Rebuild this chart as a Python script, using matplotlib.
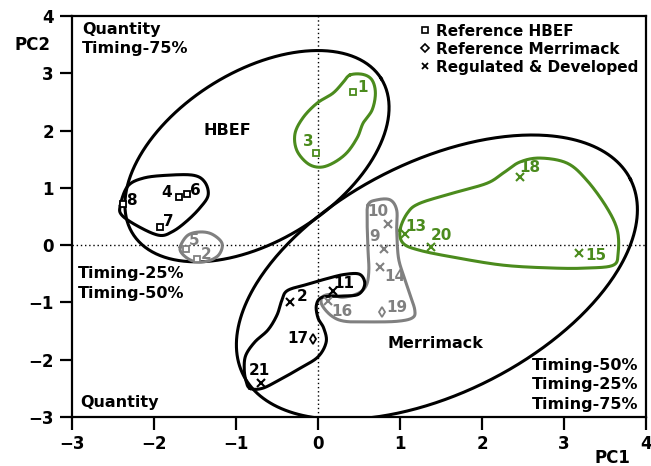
import numpy as np
import matplotlib
matplotlib.use("Agg")
import matplotlib.pyplot as plt
from matplotlib.lines import Line2D

plt.rcParams['font.family'] = ['DejaVu Sans']
plt.rcParams['font.weight'] = 'bold'

GREEN = '#4b8b1d'
GREY = '#808080'
BLACK = '#000000'
COLORS = {'g': GREEN, 's': GREY, 'k': BLACK}

# Reference HBEF sites (squares)
hbef_id = ['1', '3', '4', '6', '8', '7', '5', '2']
hbef_pc1 = [0.43, -0.02, -1.70, -1.60, -2.38, -1.93, -1.61, -1.48]
hbef_pc2 = [2.67, 1.61, 0.84, 0.89, 0.72, 0.31, -0.07, -0.24]
hbef_grp = ['g', 'g', 'k', 'k', 'k', 'k', 's', 's']

# Reference Merrimack sites (diamonds)
merr_id = ['17', '19']
merr_pc1 = [-0.06, 0.78]
merr_pc2 = [-1.64, -1.17]
merr_grp = ['k', 's']

# Regulated & developed sites (crosses)
reg_id = ['10', '9', '14', '11', '16', '2', '21', '13', '20', '18', '15']
reg_pc1 = [0.85, 0.80, 0.76, 0.18, 0.12, -0.34, -0.70, 1.06, 1.38, 2.46, 3.18]
reg_pc2 = [0.37, -0.07, -0.38, -0.80, -0.98, -0.99, -2.41, 0.19, -0.03, 1.19, -0.14]
reg_grp = ['s', 's', 's', 'k', 's', 'k', 'k', 'g', 'g', 'g', 'g']

# label offsets (pixels) per site label
lab_off = {
    ('s', '1'): (9, 5), ('s', '3'): (-8, 11), ('s', '4'): (-12, 5), ('s', '6'): (9, 4),
    ('s', '8'): (9, 3), ('s', '7'): (9, 6), ('s', '5'): (8, 9), ('s', '2'): (9, 4),
    ('d', '17'): (-15, 1), ('d', '19'): (15, 5),
    ('x', '10'): (-10, 12), ('x', '9'): (-9, 13), ('x', '14'): (15, -10), ('x', '11'): (11, 7),
    ('x', '16'): (14, -10), ('x', '2'): (12, 5), ('x', '21'): (-1, 13), ('x', '13'): (11, 8),
    ('x', '20'): (10, 11), ('x', '18'): (10, 9), ('x', '15'): (17, -2),
}

# cluster outlines (data units), drawn as smooth closed curves
green_top_x = [0.39, 0.55, 0.66, 0.70, 0.66, 0.55, 0.48, 0.35, 0.18, 0.02, -0.13, -0.26, -0.28, -0.18, -0.01, 0.18, 0.30]
green_top_y = [2.97, 2.98, 2.88, 2.65, 2.36, 2.13, 1.88, 1.61, 1.43, 1.36, 1.43, 1.66, 1.95, 2.23, 2.48, 2.65, 2.83]
black_hbef_x = [-2.41, -2.32, -2.13, -1.84, -1.52, -1.38, -1.34, -1.44, -1.60, -1.77, -1.93, -2.17, -2.39]
black_hbef_y = [0.70, 1.03, 1.17, 1.22, 1.22, 1.10, 0.87, 0.65, 0.42, 0.24, 0.17, 0.31, 0.52]
grey_hbef_x = [-1.68, -1.59, -1.44, -1.29, -1.17, -1.21, -1.35, -1.52, -1.65]
grey_hbef_y = [-0.03, 0.17, 0.23, 0.19, 0.03, -0.17, -0.28, -0.28, -0.16]
green_right_x = [1.00, 1.09, 1.24, 1.65, 2.06, 2.26, 2.46, 2.71, 3.04, 3.28, 3.52, 3.65, 3.66, 3.60, 3.28, 2.87, 2.26, 1.65, 1.24, 1.04]
green_right_y = [0.26, 0.56, 0.73, 0.91, 1.08, 1.26, 1.45, 1.52, 1.43, 1.13, 0.66, 0.26, -0.14, -0.35, -0.40, -0.40, -0.35, -0.21, -0.09, 0.03]
grey_l_x = [0.61, 0.72, 0.88, 0.96, 0.96, 0.98, 1.04, 1.11, 1.18, 1.15, 0.96, 0.63, 0.33, 0.17, 0.05, 0.05, 0.15, 0.30, 0.49, 0.59, 0.62, 0.61, 0.60]
grey_l_y = [0.70, 0.79, 0.79, 0.61, 0.26, -0.21, -0.52, -0.82, -1.13, -1.27, -1.33, -1.34, -1.33, -1.24, -1.05, -0.91, -0.86, -0.91, -0.84, -0.70, -0.44, -0.09, 0.35]
black_merr_x = [-0.83, -0.68, -0.48, -0.22, 0.00, 0.10, 0.07, 0.00, -0.02, 0.05, 0.27, 0.49, 0.57, 0.51, 0.33, 0.12, -0.12, -0.37, -0.44, -0.50, -0.61, -0.77, -0.88, -0.90, -0.88]
black_merr_y = [-2.50, -2.50, -2.36, -2.15, -1.95, -1.69, -1.45, -1.27, -1.05, -0.91, -0.89, -0.86, -0.68, -0.51, -0.51, -0.58, -0.68, -0.79, -0.96, -1.22, -1.48, -1.69, -1.92, -2.15, -2.36]

# big group ellipses: centre and two conjugate semi-axes (data units)
hbef_ell = ((-0.744, 1.553), (1.515, 1.354), (-0.547, 1.252))
merr_ell = ((1.45, -0.56), (2.36, 1.71), (-0.64, 1.80))


def closed_curve(xs, ys, n=24):
    p = np.column_stack([xs, ys])
    m = len(p)
    t = np.linspace(0, 1, n, endpoint=False)[:, None]
    segs = []
    for i in range(m):
        p0, p1, p2, p3 = p[i - 1], p[i], p[(i + 1) % m], p[(i + 2) % m]
        segs.append(0.5 * (2 * p1 + (-p0 + p2) * t + (2 * p0 - 5 * p1 + 4 * p2 - p3) * t ** 2
                           + (-p0 + 3 * p1 - 3 * p2 + p3) * t ** 3))
    segs.append(p[:1])
    return np.vstack(segs)


def ellipse(ell, n=400):
    c, u, v = ell
    t = np.linspace(0, 2 * np.pi, n)
    x = c[0] + np.cos(t) * u[0] + np.sin(t) * v[0]
    y = c[1] + np.cos(t) * u[1] + np.sin(t) * v[1]
    return x, y


fig = plt.figure(figsize=(6.51, 4.66), dpi=100)
ax = fig.add_axes([72 / 651, 49 / 466, 574 / 651, 401 / 466])

ax.axvline(0, color='k', ls=(0, (1, 2)), lw=1.0, zorder=1)
ax.axhline(0, color='k', ls=(0, (1, 2)), lw=1.0, zorder=1)

for ell in (hbef_ell, merr_ell):
    ex, ey = ellipse(ell)
    ax.plot(ex, ey, color='k', lw=2.2, zorder=2)

for xs, ys, col in [(green_top_x, green_top_y, GREEN), (black_hbef_x, black_hbef_y, BLACK),
                    (grey_hbef_x, grey_hbef_y, GREY), (green_right_x, green_right_y, GREEN),
                    (grey_l_x, grey_l_y, GREY), (black_merr_x, black_merr_y, BLACK)]:
    c = closed_curve(xs, ys)
    ax.plot(c[:, 0], c[:, 1], color=col, lw=2.2, zorder=3)

groups = [('s', hbef_id, hbef_pc1, hbef_pc2, hbef_grp, 4.5),
          ('d', merr_id, merr_pc1, merr_pc2, merr_grp, 5.5),
          ('x', reg_id, reg_pc1, reg_pc2, reg_grp, 5.5)]
for mk, ids, xs, ys, grp, ms in groups:
    for i, x, y, g in zip(ids, xs, ys, grp):
        col = COLORS[g]
        if mk == 'x':
            ax.plot(x, y, marker='x', ms=ms, mew=1.5, color=col, ls='none', zorder=5)
        else:
            ax.plot(x, y, marker=mk, ms=ms, mew=1.3, mec=col, mfc='white', ls='none', zorder=5)
        dx, dy = lab_off[(mk, i)]
        ax.annotate(i, (x, y), xytext=(dx, dy), textcoords='offset pixels',
                    ha='center', va='center', fontsize=11, color=col, zorder=6)

ax.text(-1.11, 2.0, 'HBEF', ha='center', va='center', fontsize=11.5)
ax.text(1.43, -1.71, 'Merrimack', ha='center', va='center', fontsize=11.5)

ax.text(0.017, 0.985, 'Quantity\nTiming-75%', transform=ax.transAxes, ha='left', va='top',
        fontsize=11.5, linespacing=1.35)
ax.text(0.010, 0.333, 'Timing-25%\nTiming-50%', transform=ax.transAxes, ha='left', va='center',
        fontsize=11.5, linespacing=1.35)
ax.text(0.014, 0.037, 'Quantity', transform=ax.transAxes, ha='left', va='center', fontsize=11.5)
ax.text(0.986, 0.080, 'Timing-50%\nTiming-25%\nTiming-75%', transform=ax.transAxes,
        ha='right', va='center', fontsize=11.5, linespacing=1.35)

handles = [Line2D([], [], marker='s', ms=5, mew=1.2, mec='k', mfc='white', ls='none'),
           Line2D([], [], marker='D', ms=4.5, mew=1.2, mec='k', mfc='white', ls='none'),
           Line2D([], [], marker='x', ms=5, mew=1.3, color='k', ls='none')]
ax.legend(handles, ['Reference HBEF', 'Reference Merrimack', 'Regulated & Developed'],
          loc='upper right', frameon=False, fontsize=11, handlelength=0.6,
          handletextpad=0.4, labelspacing=0.2, borderaxespad=0.2, borderpad=0.3)

ax.set_xlim(-3, 4)
ax.set_ylim(-3, 4)
ax.set_xticks(range(-3, 5))
ax.set_yticks(range(-3, 5))
ax.tick_params(direction='out', length=9, width=1.6, labelsize=12, pad=4)
for s in ax.spines.values():
    s.set_linewidth(1.6)

fig.text(32 / 651, 1 - 45 / 466, 'PC2', ha='center', va='center', fontsize=12)
fig.text(612 / 651, 1 - 458 / 466, 'PC1', ha='center', va='center', fontsize=12)

fig.savefig('out.png', dpi=100)
